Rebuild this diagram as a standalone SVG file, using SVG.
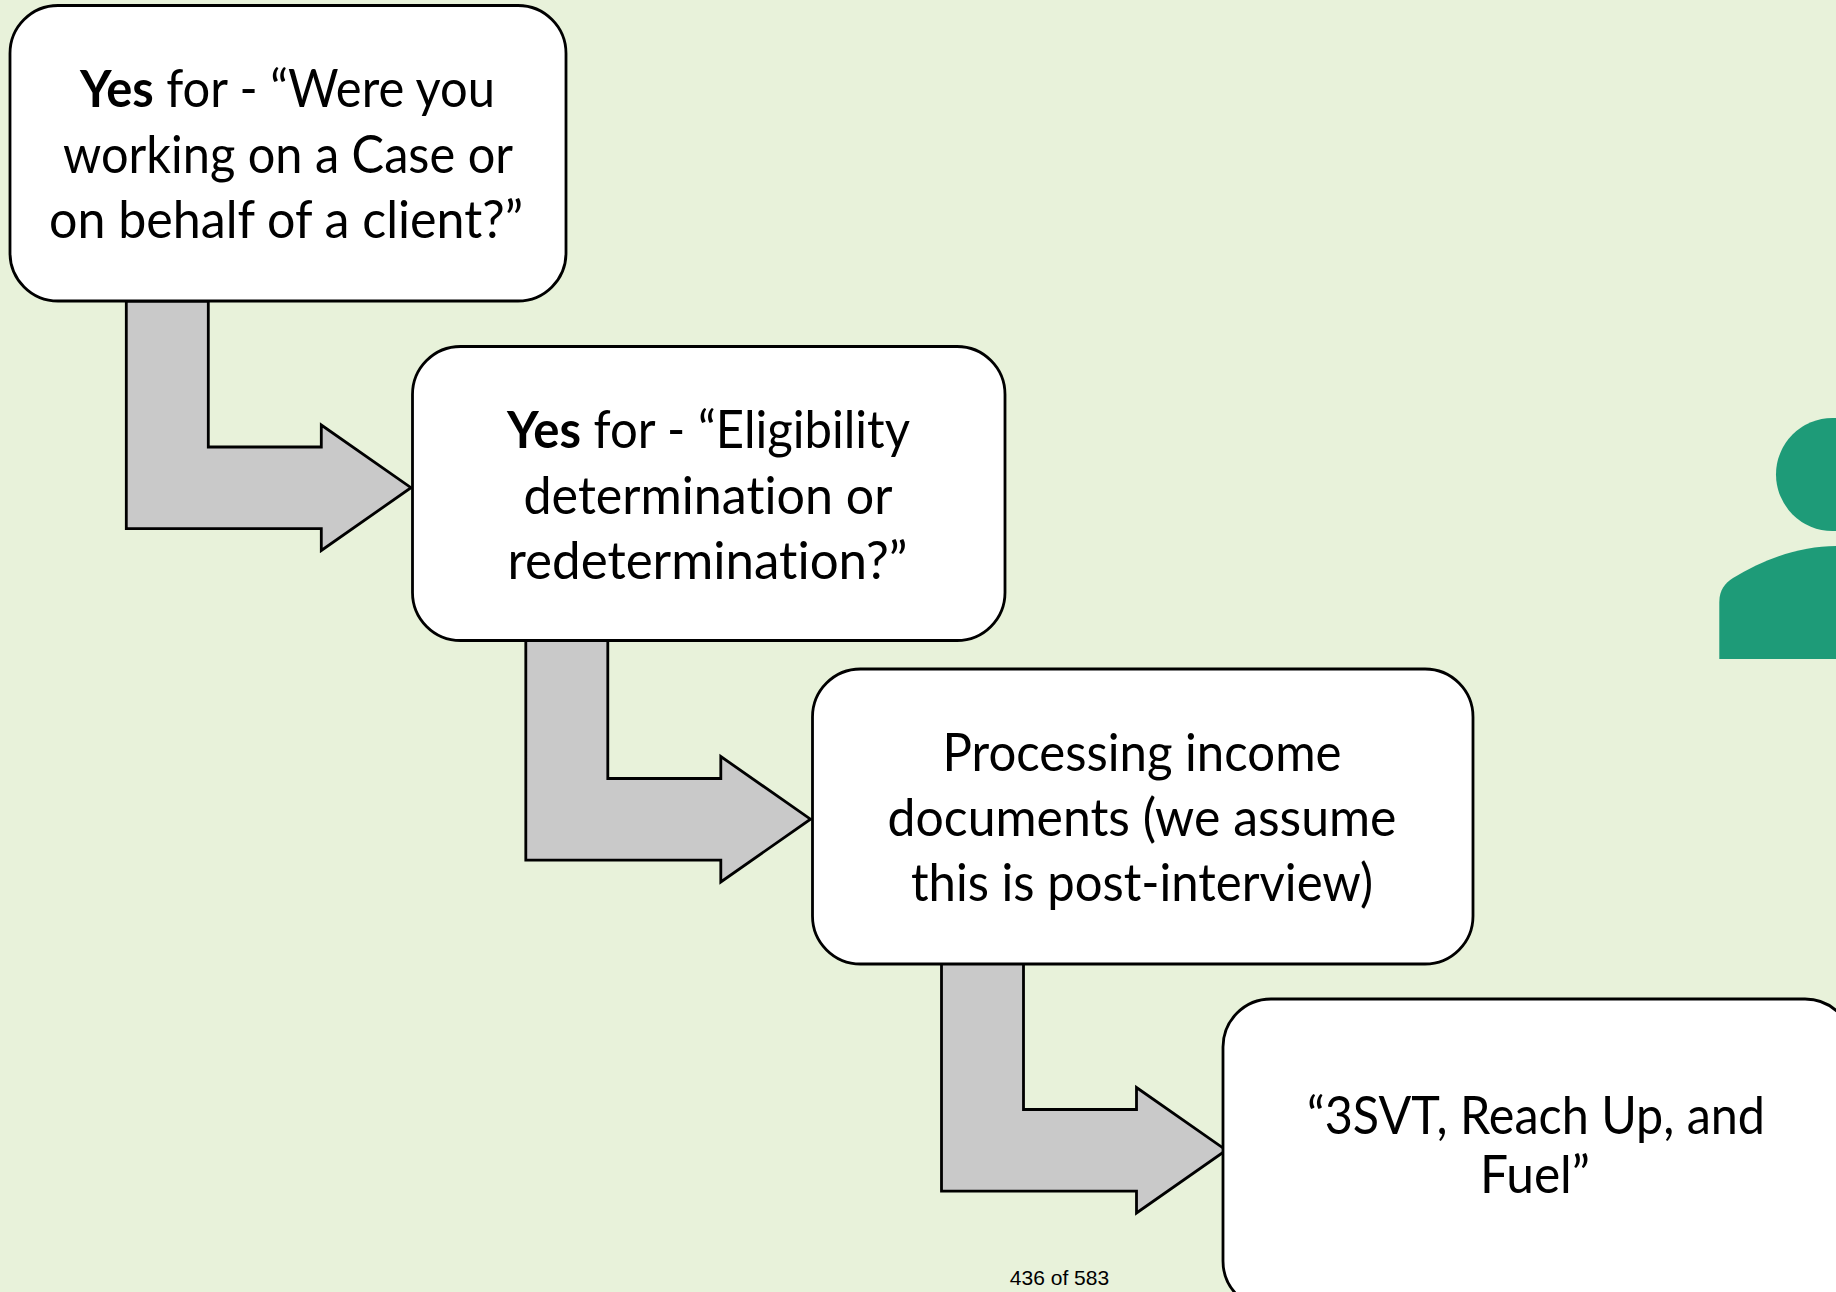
<svg xmlns="http://www.w3.org/2000/svg" width="1836" height="1292" viewBox="0 0 1836 1292">
<defs>
<style>
.box{fill:#fff;stroke:#000;stroke-width:2.8}
.arrow{fill:#c9c9c9;stroke:#000;stroke-width:2.8;stroke-linejoin:miter}
.t{font-family:"Lato","Open Sans",sans-serif;font-size:52px;fill:#000;text-anchor:middle;font-variant-ligatures:none}
.b{font-weight:700}
.p{fill:#1e9b78}
</style>
<path id="elbow" d="M126.3 301V528.7H321.3V550.5L411 487.7L321.3 425V447H208.3V301Z"/>
</defs>
<rect width="1836" height="1292" fill="#e8f2da"/>
<g id="person">
<circle class="p" cx="1832.5" cy="474.5" r="56.5"/>
<path class="p" d="M1719.3 659V602C1719.3 590 1725 583 1733 578C1765 558 1802 546 1836 546V659Z"/>
</g>
<g id="connectors">
<use href="#elbow" class="arrow"/>
<use href="#elbow" class="arrow" x="399.5" y="331.5"/>
<use href="#elbow" class="arrow" x="815.2" y="662.5"/>
</g>
<g id="node1">
<rect class="box" x="10" y="5.5" width="556" height="295.5" rx="48"/>
<text class="t" x="287.5" y="107" textLength="415" lengthAdjust="spacingAndGlyphs"><tspan class="b">Yes</tspan> for - “Were you</text>
<text class="t" x="288" y="172.5" textLength="450" lengthAdjust="spacingAndGlyphs">working on a Case or</text>
<text class="t" x="286" y="238" textLength="474" lengthAdjust="spacingAndGlyphs">on behalf of a client?”</text>
</g>
<g id="node2">
<rect class="box" x="412.5" y="346.5" width="592.5" height="294" rx="48"/>
<text class="t" x="708.5" y="448" textLength="403" lengthAdjust="spacingAndGlyphs"><tspan class="b">Yes</tspan> for - “Eligibility</text>
<text class="t" x="708" y="513.5" textLength="369" lengthAdjust="spacingAndGlyphs">determination or</text>
<text class="t" x="707.5" y="578.5" textLength="400" lengthAdjust="spacingAndGlyphs">redetermination?”</text>
</g>
<g id="node3">
<rect class="box" x="812.5" y="669" width="660.5" height="295" rx="48"/>
<text class="t" x="1142" y="771" textLength="399" lengthAdjust="spacingAndGlyphs">Processing income</text>
<text class="t" x="1142" y="836" textLength="509" lengthAdjust="spacingAndGlyphs">documents (we assume</text>
<text class="t" x="1142" y="901" textLength="462" lengthAdjust="spacingAndGlyphs">this is post-interview)</text>
</g>
<g id="node4">
<rect class="box" x="1223" y="999" width="630" height="310" rx="48"/>
<text class="t" x="1536" y="1134" textLength="458" lengthAdjust="spacingAndGlyphs">“3SVT, Reach Up, and</text>
<text class="t" x="1535" y="1192.5" textLength="110" lengthAdjust="spacingAndGlyphs">Fuel”</text>
</g>
<text id="page" x="1059.5" y="1284.5" font-family="Liberation Sans, Arial, sans-serif" font-size="21" fill="#000" text-anchor="middle">436 of 583</text>
</svg>
